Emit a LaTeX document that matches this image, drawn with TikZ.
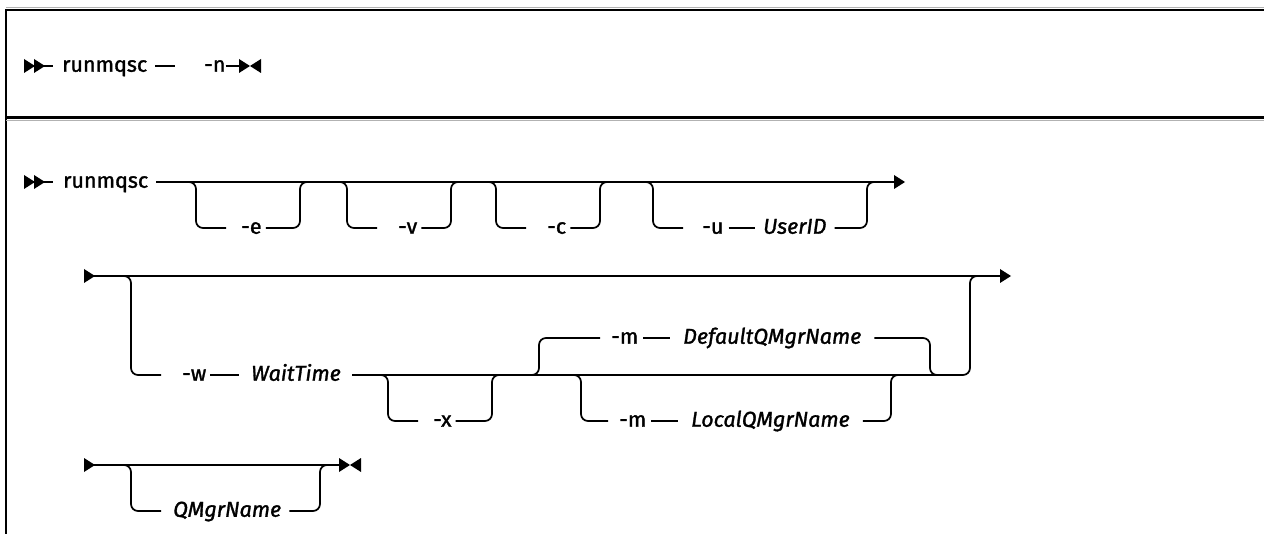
\documentclass[tikz,border=0pt]{standalone}
\usepackage{fontspec}
\setmainfont{Fira Sans}[FakeBold=1.4]
\tikzset{
  rail/.style={line width=1.7pt, rounded corners=7pt},
  kw/.style={anchor=west, inner sep=0pt, text height=11.5pt, text depth=0pt, font=\fontsize{21.5}{25}\selectfont},
  var/.style={kw, font=\fontsize{21.5}{25}\selectfont\itshape},
  framel/.style={line width=2.6pt},
}
\newcommand\rtri[2]{\fill (#1,#2-7) -- (#1+11,#2) -- (#1,#2+7) -- cycle;}
\newcommand\ltri[2]{\fill (#1,#2-7) -- (#1-11,#2) -- (#1,#2+7) -- cycle;}
\begin{document}
\begin{tikzpicture}[x=1pt,y=-1pt]
\useasboundingbox (0,0) rectangle (1264,534);
% frame
\draw[line width=1pt, black!30] (6,7.5) -- (1264,7.5);
\draw[framel] (6,534) -- (6,10) -- (1264,10);
\draw[framel, line width=3pt] (6,118) -- (1264,118);
\draw[line width=1pt, black!30] (6,121) -- (1264,121);

% ---------- row 1
\rtri{24}{66}\rtri{34}{66}
\node[kw] (r1) at (62,66) {runmqsc};
\node[kw] (n) at (204,66) {-n};
\coordinate (r1s) at (44,66);
\draw[rail] (r1s) -- ([xshift=-9pt]r1.west);
\draw[rail] ([xshift=8pt]r1.east) -- ++(20,0);
\draw[rail] (n.east) -- (240,66);
\rtri{239}{66}\ltri{261}{66}

% ---------- row 2
\rtri{24}{182}\rtri{34}{182}
\node[kw] (r2) at (63,182) {runmqsc};
\draw[rail] (44,182) -- ([xshift=-10pt]r2.west);
\coordinate (r2end) at (895,182);
\draw[rail] ([xshift=8pt]r2.east) -- (r2end);
\rtri{894}{182}
% -e
\node[kw] (e) at (241,228) {-e};
\draw[rail] (186,182) -- (196,182) -- (196,228) -- ([xshift=-15pt]e.west);
\draw[rail] ([xshift=4pt]e.east) -- (300,228) -- (300,182) -- (310,182);
% -v
\node[kw] (v) at (398,228) {-v};
\draw[rail] (337,182) -- (347,182) -- (347,228) -- ([xshift=-21pt]v.west);
\draw[rail] ([xshift=4pt]v.east) -- (451,228) -- (451,182) -- (461,182);
% -c
\node[kw] (c) at (547,228) {-c};
\draw[rail] (486,182) -- (496,182) -- (496,228) -- ([xshift=-21pt]c.west);
\draw[rail] ([xshift=4pt]c.east) -- (600,228) -- (600,182) -- (610,182);
% -u UserID
\node[kw] (u) at (702,228) {-u};
\node[var] (uid) at (763,228) {UserID};
\draw[rail] (643,182) -- (653,182) -- (653,228) -- ([xshift=-19pt]u.west);
\draw[rail] ([xshift=5pt]u.east) -- ([xshift=-8pt]uid.west);
\draw[rail] ([xshift=8pt]uid.east) -- (867,228) -- (867,182) -- (877,182);

% ---------- row 3
\rtri{84}{276}
\coordinate (r3end) at (1001,276);
\draw[rail] (94,276) -- (r3end);
\rtri{1000}{276}
\node[kw] (w) at (182,375) {-w};
\node[var] (wt) at (251,375) {WaitTime};
\draw[rail] (121,276) -- (131,276) -- (131,375) -- ([xshift=-21pt]w.west);
\draw[rail] ([xshift=4pt]w.east) -- ([xshift=-12pt]wt.west);
\draw[rail] ([xshift=11pt]wt.east) -- (970,375) -- (970,276) -- (980,276);
% -x
\node[kw] (x) at (433,421) {-x};
\draw[rail] (378,375) -- (388,375) -- (388,421) -- ([xshift=-15pt]x.west);
\draw[rail] ([xshift=4pt]x.east) -- (492,421) -- (492,375) -- (502,375);
% default -m
\node[kw] (md) at (611,338) {-m};
\node[var] (dq) at (683,338) {DefaultQMgrName};
\draw[rail] (529,375) -- (539,375) -- (539,338) -- ([xshift=-11pt]md.west);
\draw[rail] ([xshift=5pt]md.east) -- ([xshift=-13pt]dq.west);
\draw[rail] ([xshift=13pt]dq.east) -- (930,338) -- (930,375) -- (940,375);
% local -m
\node[kw] (ml) at (619,421) {-m};
\node[var] (lq) at (691,421) {LocalQMgrName};
\draw[rail] (571,375) -- (581,375) -- (581,421) -- ([xshift=-11pt]ml.west);
\draw[rail] ([xshift=5pt]ml.east) -- ([xshift=-13pt]lq.west);
\draw[rail] ([xshift=13pt]lq.east) -- (891,421) -- (891,375) -- (901,375);

% ---------- row 4
\rtri{84}{465}
\coordinate (r4end) at (340,465);
\draw[rail] (94,465) -- (r4end);
\rtri{339}{465}\ltri{361}{465}
\node[var] (q) at (173,511) {QMgrName};
\draw[rail] (121,465) -- (131,465) -- (131,511) -- ([xshift=-12pt]q.west);
\draw[rail] ([xshift=8pt]q.east) -- (320,511) -- (320,465) -- (330,465);
\end{tikzpicture}
\end{document}
